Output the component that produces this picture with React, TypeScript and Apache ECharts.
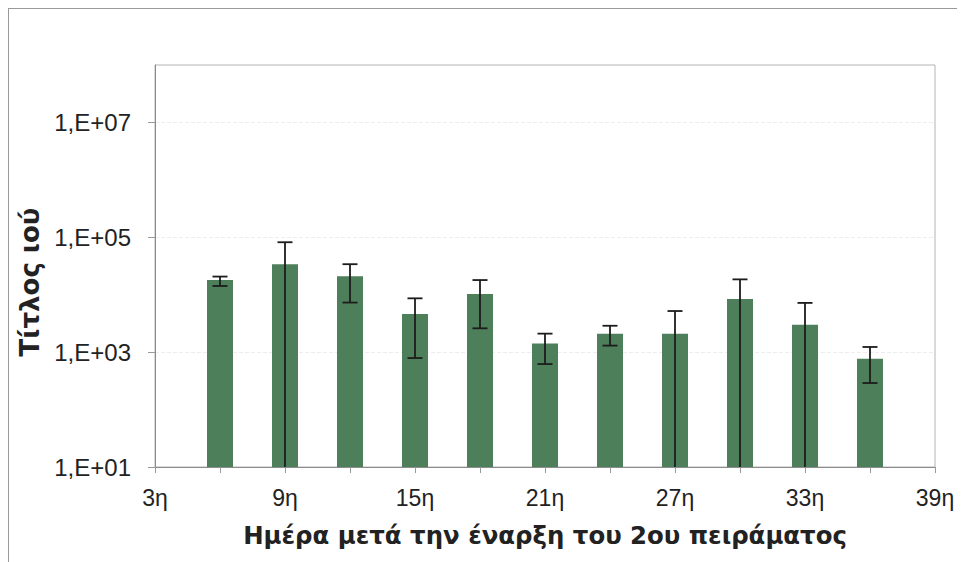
import React, { useEffect, useRef } from "react";
import * as echarts from "echarts";

// Days after start of the 2nd experiment
const days = [6, 9, 12, 15, 18, 21, 24, 27, 30, 33, 36];
// Mean virus titre per day
const titre = [18000, 34000, 21000, 4600, 10300, 1420, 2100, 2100, 8400, 3000, 770];
// Error bar bounds (values below the axis minimum run to the axis)
const errLow = [14200, 1, 7300, 790, 2600, 620, 1300, 1, 1, 1, 290];
const errHigh = [20700, 82000, 34000, 8650, 18000, 2100, 2880, 5200, 18500, 7200, 1230];
// Axis ticks
const yLabelValues = [10, 1000, 100000, 10000000];
const xTitle = "Ημέρα μετά την έναρξη του 2ου πειράματος";
const yTitle = "Τίτλος ιού";

export default function App() {
  const ref = useRef<HTMLDivElement>(null);
  useEffect(() => {
    if (!ref.current) return;
    const chart = echarts.init(ref.current, undefined, { renderer: "svg" });
    const font = "'Liberation Sans', Arial, sans-serif";
    const titleFont = "'DejaVu Sans', 'Liberation Sans', sans-serif";
    chart.setOption({
      animation: false,
      backgroundColor: "#ffffff",
      grid: {
        left: 146,
        top: 56,
        width: 780,
        height: 402,
        show: true,
        borderColor: "#b4b4b4",
        borderWidth: 1,
        backgroundColor: "transparent",
      },
      xAxis: {
        type: "value",
        min: 3,
        max: 39,
        interval: 3,
        name: xTitle,
        nameLocation: "middle",
        nameGap: 56,
        nameTextStyle: { fontFamily: titleFont, fontWeight: "bold", fontSize: 24.4, color: "#222" },
        axisLine: { show: true, lineStyle: { color: "#8c8c8c", width: 1 } },
        axisTick: { show: true, inside: false, length: 6, lineStyle: { color: "#9a9a9a" } },
        axisLabel: {
          fontFamily: font,
          fontSize: 23,
          color: "#222",
          margin: 19,
          formatter: (v: number) => ((v - 3) % 6 === 0 ? v + "η" : ""),
        },
        splitLine: { show: false },
      },
      yAxis: {
        type: "log",
        logBase: 10,
        min: 10,
        max: 100000000,
        axisLine: { show: true, lineStyle: { color: "#8c8c8c", width: 1 } },
        axisTick: {
          show: true,
          inside: false,
          length: 7,
          customValues: yLabelValues,
          lineStyle: { color: "#9a9a9a" },
        },
        axisLabel: {
          fontFamily: font,
          fontSize: 24,
          color: "#222",
          margin: 24,
          customValues: yLabelValues,
          formatter: (v: number) => {
            const e = Math.round(Math.log10(v));
            return "1,E+" + (e < 10 ? "0" + e : "" + e);
          },
        },
        splitLine: { show: true, lineStyle: { color: "#ededed", type: "dashed", width: 1 } },
      },
      graphic: [
        {
          type: "text",
          x: 21,
          y: 273,
          rotation: Math.PI / 2,
          style: {
            text: yTitle,
            fontFamily: titleFont,
            fontWeight: "bold",
            fontSize: 26,
            fill: "#222",
            textAlign: "center",
            textVerticalAlign: "middle",
          },
        },
      ],
      series: [
        {
          type: "bar",
          data: days.map((d, i) => [d, titre[i]]),
          barWidth: 26,
          itemStyle: { color: "#4e7f5b" },
          z: 2,
        },
        {
          type: "custom",
          z: 3,
          data: days.map((d, i) => [d, errLow[i], errHigh[i]]),
          renderItem: (params: any, api: any) => {
            const x = api.value(0);
            const pHi = api.coord([x, api.value(2)]);
            const pLo = api.coord([x, api.value(1)]);
            const cs = params.coordSys;
            const bottom = cs.y + cs.height;
            const yLo = Math.min(pLo[1], bottom);
            const half = 7.5;
            const style = { stroke: "#1c1c1c", lineWidth: 1.8 };
            const children: any[] = [
              { type: "line", shape: { x1: pHi[0], y1: pHi[1], x2: pHi[0], y2: yLo }, style },
              { type: "line", shape: { x1: pHi[0] - half, y1: pHi[1], x2: pHi[0] + half, y2: pHi[1] }, style },
            ];
            if (pLo[1] < bottom) {
              children.push({
                type: "line",
                shape: { x1: pLo[0] - half, y1: pLo[1], x2: pLo[0] + half, y2: pLo[1] },
                style,
              });
            }
            return { type: "group", children };
          },
        },
      ],
    });
    return () => chart.dispose();
  }, []);
  return (
    <div
      style={{
        width: 957,
        height: 554,
        boxSizing: "border-box",
        borderTop: "1px solid #9a9a9a",
        borderLeft: "1px solid #9a9a9a",
      }}
    >
      <div ref={ref} style={{ width: 956, height: 553 }} />
    </div>
  );
}
